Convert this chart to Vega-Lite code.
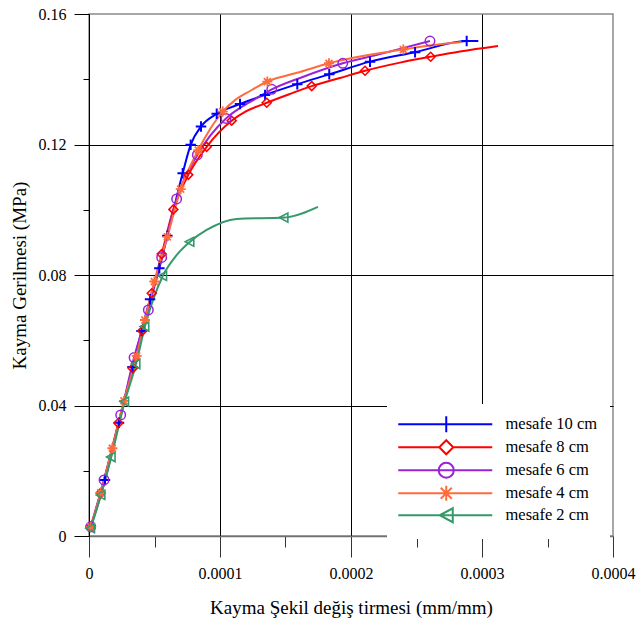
{
  "$schema": "https://vega.github.io/schema/vega-lite/v6.json",
  "width": 524,
  "height": 522,
  "autosize": {"type": "none"},
  "padding": {"left": 89, "top": 14, "right": 23, "bottom": 92},
  "background": "white",
  "config": {
    "view": {"stroke": "#8a8a8a", "strokeWidth": 1.5},
    "axis": {
      "labelFont": "Liberation Serif",
      "titleFont": "Liberation Serif",
      "labelColor": "black",
      "titleColor": "black",
      "titleFontWeight": "normal",
      "labelFontSize": 16,
      "titleFontSize": 19,
      "tickColor": "black",
      "gridColor": "black",
      "gridWidth": 1,
      "labelOverlap": false,
      "labelFlush": false
    }
  },
  "datasets": {
    "curves": [
      {"s": "mesafe 10 cm", "x": 0.0000013, "y": 0.0028},
      {"s": "mesafe 10 cm", "x": 0.0000122, "y": 0.0172},
      {"s": "mesafe 10 cm", "x": 0.0000229, "y": 0.0347},
      {"s": "mesafe 10 cm", "x": 0.0000332, "y": 0.0518},
      {"s": "mesafe 10 cm", "x": 0.0000401, "y": 0.0628},
      {"s": "mesafe 10 cm", "x": 0.0000466, "y": 0.0726},
      {"s": "mesafe 10 cm", "x": 0.0000537, "y": 0.0821},
      {"s": "mesafe 10 cm", "x": 0.0000598, "y": 0.092},
      {"s": "mesafe 10 cm", "x": 0.0000715, "y": 0.1112},
      {"s": "mesafe 10 cm", "x": 0.0000776, "y": 0.1199},
      {"s": "mesafe 10 cm", "x": 0.0000855, "y": 0.1255},
      {"s": "mesafe 10 cm", "x": 0.0000975, "y": 0.1294},
      {"s": "mesafe 10 cm", "x": 0.0001153, "y": 0.1324},
      {"s": "mesafe 10 cm", "x": 0.0001344, "y": 0.1352},
      {"s": "mesafe 10 cm", "x": 0.000159, "y": 0.1385},
      {"s": "mesafe 10 cm", "x": 0.0001834, "y": 0.1415},
      {"s": "mesafe 10 cm", "x": 0.0002145, "y": 0.1454},
      {"s": "mesafe 10 cm", "x": 0.0002489, "y": 0.1483},
      {"s": "mesafe 10 cm", "x": 0.0002883, "y": 0.1517},
      {"s": "mesafe 10 cm", "x": 0.0002972, "y": 0.1517},
      {"s": "mesafe 8 cm", "x": 0.0000013, "y": 0.0028},
      {"s": "mesafe 8 cm", "x": 0.0000089, "y": 0.0132},
      {"s": "mesafe 8 cm", "x": 0.0000224, "y": 0.0346},
      {"s": "mesafe 8 cm", "x": 0.0000334, "y": 0.0514},
      {"s": "mesafe 8 cm", "x": 0.0000407, "y": 0.0629},
      {"s": "mesafe 8 cm", "x": 0.0000479, "y": 0.0744},
      {"s": "mesafe 8 cm", "x": 0.0000555, "y": 0.0864},
      {"s": "mesafe 8 cm", "x": 0.0000644, "y": 0.1001},
      {"s": "mesafe 8 cm", "x": 0.0000758, "y": 0.1107},
      {"s": "mesafe 8 cm", "x": 0.0000898, "y": 0.1193},
      {"s": "mesafe 8 cm", "x": 0.0001089, "y": 0.1273},
      {"s": "mesafe 8 cm", "x": 0.0001191, "y": 0.13},
      {"s": "mesafe 8 cm", "x": 0.0001357, "y": 0.1328},
      {"s": "mesafe 8 cm", "x": 0.0001534, "y": 0.1355},
      {"s": "mesafe 8 cm", "x": 0.00017, "y": 0.1379},
      {"s": "mesafe 8 cm", "x": 0.0001916, "y": 0.1404},
      {"s": "mesafe 8 cm", "x": 0.0002107, "y": 0.1426},
      {"s": "mesafe 8 cm", "x": 0.0002374, "y": 0.1451},
      {"s": "mesafe 8 cm", "x": 0.0002608, "y": 0.1469},
      {"s": "mesafe 8 cm", "x": 0.0002832, "y": 0.1485},
      {"s": "mesafe 8 cm", "x": 0.0003122, "y": 0.1502},
      {"s": "mesafe 6 cm", "x": 0.0000013, "y": 0.0028},
      {"s": "mesafe 6 cm", "x": 0.0000115, "y": 0.0172},
      {"s": "mesafe 6 cm", "x": 0.0000242, "y": 0.0371},
      {"s": "mesafe 6 cm", "x": 0.0000344, "y": 0.0547},
      {"s": "mesafe 6 cm", "x": 0.0000453, "y": 0.0693},
      {"s": "mesafe 6 cm", "x": 0.0000555, "y": 0.0854},
      {"s": "mesafe 6 cm", "x": 0.0000669, "y": 0.1033},
      {"s": "mesafe 6 cm", "x": 0.0000827, "y": 0.1168},
      {"s": "mesafe 6 cm", "x": 0.0001046, "y": 0.128},
      {"s": "mesafe 6 cm", "x": 0.0001153, "y": 0.1312},
      {"s": "mesafe 6 cm", "x": 0.0001267, "y": 0.1339},
      {"s": "mesafe 6 cm", "x": 0.0001395, "y": 0.1369},
      {"s": "mesafe 6 cm", "x": 0.0001611, "y": 0.1404},
      {"s": "mesafe 6 cm", "x": 0.0001937, "y": 0.1449},
      {"s": "mesafe 6 cm", "x": 0.0002221, "y": 0.1477},
      {"s": "mesafe 6 cm", "x": 0.0002603, "y": 0.1517},
      {"s": "mesafe 4 cm", "x": 0.0000013, "y": 0.0028},
      {"s": "mesafe 4 cm", "x": 0.0000089, "y": 0.0132},
      {"s": "mesafe 4 cm", "x": 0.0000178, "y": 0.0269},
      {"s": "mesafe 4 cm", "x": 0.0000267, "y": 0.0414},
      {"s": "mesafe 4 cm", "x": 0.0000364, "y": 0.0552},
      {"s": "mesafe 4 cm", "x": 0.0000427, "y": 0.0662},
      {"s": "mesafe 4 cm", "x": 0.0000499, "y": 0.078},
      {"s": "mesafe 4 cm", "x": 0.0000598, "y": 0.0917},
      {"s": "mesafe 4 cm", "x": 0.00007, "y": 0.1063},
      {"s": "mesafe 4 cm", "x": 0.0000834, "y": 0.1183},
      {"s": "mesafe 4 cm", "x": 0.0001021, "y": 0.1301},
      {"s": "mesafe 4 cm", "x": 0.0001115, "y": 0.1336},
      {"s": "mesafe 4 cm", "x": 0.0001229, "y": 0.1364},
      {"s": "mesafe 4 cm", "x": 0.0001361, "y": 0.1393},
      {"s": "mesafe 4 cm", "x": 0.0001611, "y": 0.1422},
      {"s": "mesafe 4 cm", "x": 0.0001832, "y": 0.1449},
      {"s": "mesafe 4 cm", "x": 0.0002399, "y": 0.1491},
      {"s": "mesafe 4 cm", "x": 0.0002679, "y": 0.1507},
      {"s": "mesafe 4 cm", "x": 0.0002847, "y": 0.1514},
      {"s": "mesafe 2 cm", "x": 0.0000013, "y": 0.0024},
      {"s": "mesafe 2 cm", "x": 0.0000092, "y": 0.0126},
      {"s": "mesafe 2 cm", "x": 0.000017, "y": 0.0242},
      {"s": "mesafe 2 cm", "x": 0.0000273, "y": 0.0412},
      {"s": "mesafe 2 cm", "x": 0.0000359, "y": 0.0527},
      {"s": "mesafe 2 cm", "x": 0.0000427, "y": 0.0642},
      {"s": "mesafe 2 cm", "x": 0.0000563, "y": 0.0797},
      {"s": "mesafe 2 cm", "x": 0.0000669, "y": 0.0861},
      {"s": "mesafe 2 cm", "x": 0.0000771, "y": 0.0902},
      {"s": "mesafe 2 cm", "x": 0.0000898, "y": 0.0938},
      {"s": "mesafe 2 cm", "x": 0.0001126, "y": 0.0972},
      {"s": "mesafe 2 cm", "x": 0.0001489, "y": 0.0976},
      {"s": "mesafe 2 cm", "x": 0.0001748, "y": 0.1009}
    ],
    "markers": [
      {"s": "mesafe 10 cm", "x": 0.0000013, "y": 0.0028},
      {"s": "mesafe 10 cm", "x": 0.0000122, "y": 0.0172},
      {"s": "mesafe 10 cm", "x": 0.0000229, "y": 0.0347},
      {"s": "mesafe 10 cm", "x": 0.0000332, "y": 0.0518},
      {"s": "mesafe 10 cm", "x": 0.0000401, "y": 0.0628},
      {"s": "mesafe 10 cm", "x": 0.0000466, "y": 0.0726},
      {"s": "mesafe 10 cm", "x": 0.0000537, "y": 0.0821},
      {"s": "mesafe 10 cm", "x": 0.0000598, "y": 0.092},
      {"s": "mesafe 10 cm", "x": 0.0000715, "y": 0.1112},
      {"s": "mesafe 10 cm", "x": 0.0000776, "y": 0.1199},
      {"s": "mesafe 10 cm", "x": 0.0000855, "y": 0.1255},
      {"s": "mesafe 10 cm", "x": 0.0000975, "y": 0.1294},
      {"s": "mesafe 10 cm", "x": 0.0001153, "y": 0.1324},
      {"s": "mesafe 10 cm", "x": 0.0001344, "y": 0.1352},
      {"s": "mesafe 10 cm", "x": 0.000159, "y": 0.1385},
      {"s": "mesafe 10 cm", "x": 0.0001834, "y": 0.1415},
      {"s": "mesafe 10 cm", "x": 0.0002145, "y": 0.1454},
      {"s": "mesafe 10 cm", "x": 0.0002489, "y": 0.1483},
      {"s": "mesafe 10 cm", "x": 0.0002883, "y": 0.1517},
      {"s": "mesafe 8 cm", "x": 0.0000013, "y": 0.0028},
      {"s": "mesafe 8 cm", "x": 0.0000089, "y": 0.0132},
      {"s": "mesafe 8 cm", "x": 0.0000224, "y": 0.0346},
      {"s": "mesafe 8 cm", "x": 0.0000334, "y": 0.0514},
      {"s": "mesafe 8 cm", "x": 0.0000407, "y": 0.0629},
      {"s": "mesafe 8 cm", "x": 0.0000479, "y": 0.0744},
      {"s": "mesafe 8 cm", "x": 0.0000555, "y": 0.0864},
      {"s": "mesafe 8 cm", "x": 0.0000644, "y": 0.1001},
      {"s": "mesafe 8 cm", "x": 0.0000758, "y": 0.1107},
      {"s": "mesafe 8 cm", "x": 0.0000898, "y": 0.1193},
      {"s": "mesafe 8 cm", "x": 0.0001089, "y": 0.1273},
      {"s": "mesafe 8 cm", "x": 0.0001357, "y": 0.1328},
      {"s": "mesafe 8 cm", "x": 0.00017, "y": 0.1379},
      {"s": "mesafe 8 cm", "x": 0.0002107, "y": 0.1426},
      {"s": "mesafe 8 cm", "x": 0.0002608, "y": 0.1469},
      {"s": "mesafe 6 cm", "x": 0.0000013, "y": 0.0028},
      {"s": "mesafe 6 cm", "x": 0.0000115, "y": 0.0172},
      {"s": "mesafe 6 cm", "x": 0.0000242, "y": 0.0371},
      {"s": "mesafe 6 cm", "x": 0.0000344, "y": 0.0547},
      {"s": "mesafe 6 cm", "x": 0.0000453, "y": 0.0693},
      {"s": "mesafe 6 cm", "x": 0.0000555, "y": 0.0854},
      {"s": "mesafe 6 cm", "x": 0.0000669, "y": 0.1033},
      {"s": "mesafe 6 cm", "x": 0.0000827, "y": 0.1168},
      {"s": "mesafe 6 cm", "x": 0.0001046, "y": 0.128},
      {"s": "mesafe 6 cm", "x": 0.0001395, "y": 0.1369},
      {"s": "mesafe 6 cm", "x": 0.0001937, "y": 0.1449},
      {"s": "mesafe 6 cm", "x": 0.0002603, "y": 0.1517},
      {"s": "mesafe 4 cm", "x": 0.0000013, "y": 0.0028},
      {"s": "mesafe 4 cm", "x": 0.0000089, "y": 0.0132},
      {"s": "mesafe 4 cm", "x": 0.0000178, "y": 0.0269},
      {"s": "mesafe 4 cm", "x": 0.0000267, "y": 0.0414},
      {"s": "mesafe 4 cm", "x": 0.0000364, "y": 0.0552},
      {"s": "mesafe 4 cm", "x": 0.0000427, "y": 0.0662},
      {"s": "mesafe 4 cm", "x": 0.0000499, "y": 0.078},
      {"s": "mesafe 4 cm", "x": 0.0000598, "y": 0.0917},
      {"s": "mesafe 4 cm", "x": 0.00007, "y": 0.1063},
      {"s": "mesafe 4 cm", "x": 0.0000834, "y": 0.1183},
      {"s": "mesafe 4 cm", "x": 0.0001021, "y": 0.1301},
      {"s": "mesafe 4 cm", "x": 0.0001361, "y": 0.1393},
      {"s": "mesafe 4 cm", "x": 0.0001832, "y": 0.1449},
      {"s": "mesafe 4 cm", "x": 0.0002399, "y": 0.1491},
      {"s": "mesafe 2 cm", "x": 0.0000013, "y": 0.0024},
      {"s": "mesafe 2 cm", "x": 0.0000092, "y": 0.0126},
      {"s": "mesafe 2 cm", "x": 0.000017, "y": 0.0242},
      {"s": "mesafe 2 cm", "x": 0.0000273, "y": 0.0412},
      {"s": "mesafe 2 cm", "x": 0.0000359, "y": 0.0527},
      {"s": "mesafe 2 cm", "x": 0.0000427, "y": 0.0642},
      {"s": "mesafe 2 cm", "x": 0.0000563, "y": 0.0797},
      {"s": "mesafe 2 cm", "x": 0.0000771, "y": 0.0902},
      {"s": "mesafe 2 cm", "x": 0.0001489, "y": 0.0976}
    ]
  },
  "layer": [
    {
      "data": {"name": "curves"},
      "mark": {"type": "line", "interpolate": "monotone", "strokeWidth": 2},
      "encoding": {
        "x": {
          "field": "x", "type": "quantitative",
          "scale": {"domain": [0, 0.0004], "nice": false, "zero": false},
          "axis": {
            "title": "Kayma Şekil değiş tirmesi (mm/mm)",
            "values": [0, 0.00005, 0.0001, 0.00015, 0.0002, 0.00025, 0.0003, 0.00035, 0.0004],
            "labelExpr": "round(datum.value*20000) % 2 == 0 ? (datum.value == 0 ? '0' : format(datum.value, '.4f')) : ''",
            "tickSize": {"condition": {"test": "round(datum.value*20000) % 2 == 0", "value": 21}, "value": 11},
            "grid": true,
            "gridOpacity": {"condition": {"test": "round(datum.value*20000) % 2 == 0 && datum.value > 0.00001 && datum.value < 0.00039", "value": 1}, "value": 0},
            "domainColor": "#707070",
            "domainWidth": 1.5,
            "tickColor": "#333333",
            "labelPadding": 8,
            "titlePadding": 17
          }
        },
        "y": {
          "field": "y", "type": "quantitative",
          "scale": {"domain": [0, 0.16], "nice": false, "zero": false},
          "axis": {
            "title": "Kayma Gerilmesi (MPa)",
            "values": [0, 0.02, 0.04, 0.06, 0.08, 0.1, 0.12, 0.14, 0.16],
            "labelExpr": "round(datum.value*50) % 2 == 0 ? (datum.value == 0 ? '0' : format(datum.value, '.2f')) : ''",
            "tickSize": {"condition": {"test": "round(datum.value*50) % 2 == 0", "value": 15}, "value": 6},
            "grid": true,
            "gridOpacity": {"condition": {"test": "round(datum.value*50) % 2 == 0 && datum.value > 0.01 && datum.value < 0.15", "value": 1}, "value": 0},
            "domainColor": "black",
            "domainWidth": 1,
            "labelPadding": 8,
            "titlePadding": 9
          }
        },
        "color": {
          "field": "s", "type": "nominal",
          "scale": {
            "range": ["#0000FF", "#35996B", "#FF6B3D", "#9A22D8", "#FF0000"]
          },
          "legend": null
        }
      }
    },
    {
      "data": {"name": "markers"},
      "transform": [{"filter": "datum.s == 'mesafe 10 cm'"}],
      "mark": {"type": "point", "filled": false, "shape": "M-1,0H1M0,-1V1", "size": 110, "strokeWidth": 2, "opacity": 1},
      "encoding": {
        "x": {"field": "x", "type": "quantitative"},
        "y": {"field": "y", "type": "quantitative"},
        "color": {"field": "s", "type": "nominal", "legend": null}
      }
    },
    {
      "data": {"name": "markers"},
      "transform": [{"filter": "datum.s == 'mesafe 8 cm'"}],
      "mark": {"type": "point", "filled": false, "shape": "M0,-1L1,0L0,1L-1,0Z", "size": 80, "strokeWidth": 1.6, "opacity": 1},
      "encoding": {
        "x": {"field": "x", "type": "quantitative"},
        "y": {"field": "y", "type": "quantitative"},
        "color": {"field": "s", "type": "nominal", "legend": null}
      }
    },
    {
      "data": {"name": "markers"},
      "transform": [{"filter": "datum.s == 'mesafe 6 cm'"}],
      "mark": {"type": "point", "filled": false, "shape": "circle", "size": 90, "strokeWidth": 1.5, "opacity": 1},
      "encoding": {
        "x": {"field": "x", "type": "quantitative"},
        "y": {"field": "y", "type": "quantitative"},
        "color": {"field": "s", "type": "nominal", "legend": null}
      }
    },
    {
      "data": {"name": "markers"},
      "transform": [{"filter": "datum.s == 'mesafe 4 cm'"}],
      "mark": {"type": "point", "filled": false, "shape": "M-1,0H1M0,-1V1M-0.7,-0.7L0.7,0.7M-0.7,0.7L0.7,-0.7", "size": 100, "strokeWidth": 1.8, "opacity": 1},
      "encoding": {
        "x": {"field": "x", "type": "quantitative"},
        "y": {"field": "y", "type": "quantitative"},
        "color": {"field": "s", "type": "nominal", "legend": null}
      }
    },
    {
      "data": {"name": "markers"},
      "transform": [{"filter": "datum.s == 'mesafe 2 cm'"}],
      "mark": {"type": "point", "filled": false, "shape": "M-1,0L0.8,-0.95L0.8,0.95Z", "size": 90, "strokeWidth": 1.6, "opacity": 1},
      "encoding": {
        "x": {"field": "x", "type": "quantitative"},
        "y": {"field": "y", "type": "quantitative"},
        "color": {"field": "s", "type": "nominal", "legend": null}
      }
    },
    {
      "data": {"name": "markers"},
      "transform": [{"filter": "false"}],
      "mark": {"type": "point", "filled": false, "strokeWidth": 2, "opacity": 1},
      "encoding": {
        "x": {"field": "x", "type": "quantitative"},
        "y": {"field": "y", "type": "quantitative"},
        "stroke": {
          "field": "s", "type": "nominal",
          "scale": {
            "domain": ["mesafe 10 cm", "mesafe 8 cm", "mesafe 6 cm", "mesafe 4 cm", "mesafe 2 cm"],
            "range": ["#0000FF", "#FF0000", "#9A22D8", "#FF6B3D", "#35996B"]
          },
          "legend": {
            "orient": "none", "legendX": 298, "legendY": 390, "title": null,
            "fillColor": "white", "padding": 12, "symbolSize": 100, "symbolStrokeWidth": 2,
            "symbolFillColor": "transparent", "labelOffset": 90, "rowPadding": -1,
            "labelFont": "Liberation Serif", "labelFontSize": 16.5, "labelColor": "black", "labelLimit": 300
          }
        },
        "shape": {
          "field": "s", "type": "nominal",
          "scale": {
            "domain": ["mesafe 10 cm", "mesafe 8 cm", "mesafe 6 cm", "mesafe 4 cm", "mesafe 2 cm"],
            "range": [
              "M-1.8,0H17M7.8,-1.6V1.6",
              "M-1.8,0H6.4M9.2,0H17M7.8,-1.4L9.2,0L7.8,1.4L6.4,0Z",
              "M-1.8,0H17M6.3,0A1.5,1.5,0,1,1,9.3,0A1.5,1.5,0,1,1,6.3,0Z",
              "M-1.8,0H17M7.8,-1.5V1.5M6.7,-1.1L8.9,1.1M6.7,1.1L8.9,-1.1",
              "M-1.8,0H17M6.5,0L9.1,-1.4V1.4Z"
            ]
          },
          "legend": {
            "orient": "none", "legendX": 298, "legendY": 390, "title": null,
            "fillColor": "white", "padding": 12, "symbolSize": 100, "symbolStrokeWidth": 2,
            "symbolFillColor": "transparent", "labelOffset": 90, "rowPadding": -1,
            "labelFont": "Liberation Serif", "labelFontSize": 16.5, "labelColor": "black", "labelLimit": 300
          }
        }
      }
    }
  ]
}
